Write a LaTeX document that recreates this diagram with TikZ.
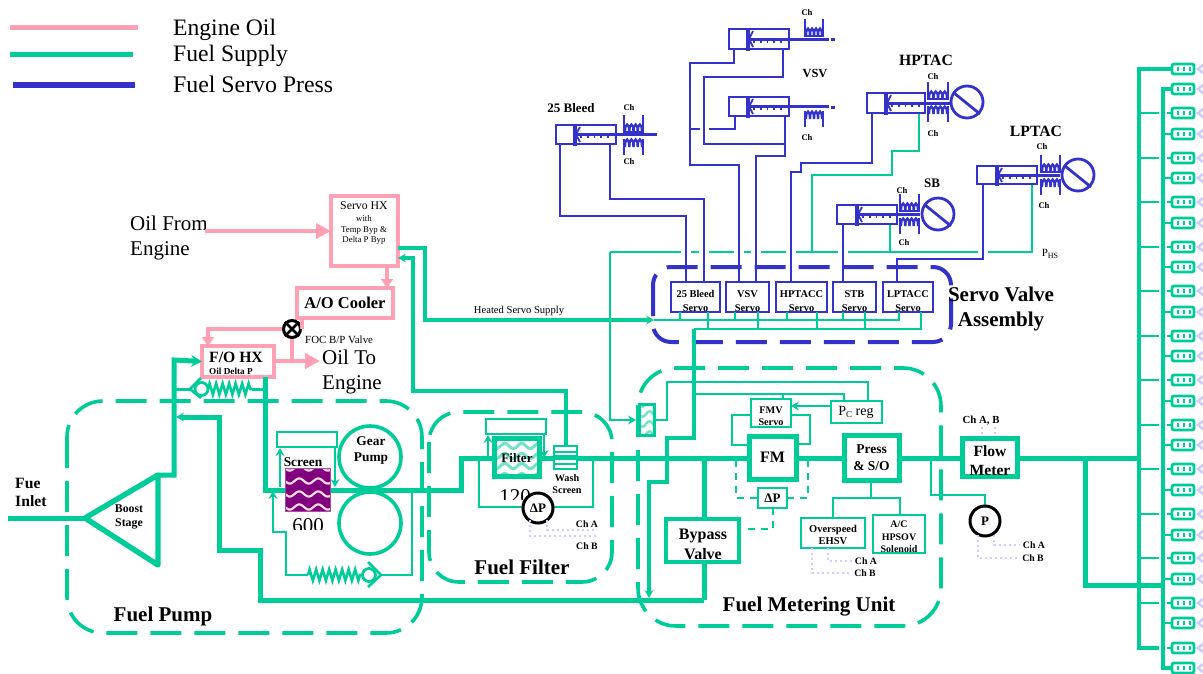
\documentclass[tikz,border=0pt]{standalone}
\usepackage{fontspec}
\setmainfont{Liberation Serif}
\usetikzlibrary{arrows.meta,decorations.pathmorphing}
\definecolor{gr}{HTML}{00CC99}
\definecolor{bl}{HTML}{3333CC}
\definecolor{pk}{HTML}{FFA0B4}
\definecolor{lv}{HTML}{CCCCFF}
\definecolor{pu}{HTML}{800080}
\newcommand\fz[2]{\fontsize{#1}{#2}\selectfont}
\tikzset{
 tb/.style 2 args={font=\bfseries\fz{#1}{#2},align=center,inner sep=0pt,text=black},
 tr/.style 2 args={font=\fz{#1}{#2},align=center,inner sep=0pt,text=black},
 g1/.style={draw=gr,line width=2.6pt,line join=miter},
 g2/.style={draw=gr,line width=3pt},
 g3/.style={draw=gr,line width=4pt},
 g4/.style={draw=gr,line width=5pt},
 bb/.style={draw=bl,line width=2.7pt},
 pp/.style={draw=pk,line width=4pt},
 dotl/.style={draw=lv,line width=2pt,dash pattern=on 2pt off 3pt},
 dashg/.style={draw=gr,line width=3.6pt,dash pattern=on 31pt off 13pt},
 dashb/.style={draw=bl,line width=4pt,dash pattern=on 31pt off 13pt},
 gar/.style={-{Stealth[length=11pt,width=12pt,inset=4pt]}},
 gars/.style={-{Stealth[length=8pt,width=9pt,inset=3pt]}},
 par/.style={-{Triangle[length=15pt,width=15pt]}},
 spr/.style={decorate,decoration={zigzag,segment length=6.5pt,amplitude=5.5pt}},
}
\newcommand\boxn[7]{%
 \pgfmathsetmacro\bxx{(#2+#4)/2}\pgfmathsetmacro\bxy{(#3+#5)/2}%
 \pgfmathsetmacro\bxw{#4-#2}\pgfmathsetmacro\bxh{#5-#3}%
 \node[#6,inner sep=0pt,outer sep=0pt,minimum width=\bxw pt,minimum height=\bxh pt,align=center] (#1) at (\bxx,\bxy) {#7};}
% humps: x1,x2,base y,height sign
\newcommand\humps[4]{%
 \pgfmathsetmacro\hw{(#2-#1-2)/4}%
 \foreach \i in {0,1,2,3}{\pgfmathsetmacro\ha{#1+1+\i*\hw}\pgfmathsetmacro\hb{\ha+\hw}\pgfmathsetmacro\hc{#3+#4}%
  \draw[draw=bl,line width=2.3pt] (\ha,#3) .. controls (\ha,\hc) and (\hb,\hc) .. (\hb,#3);}}
\newcommand\coilup[3]{\draw[bb] (#1,#3-20) -- (#1,#3-3) -- (#2,#3-3) -- (#2,#3-20); \humps{#1}{#2}{#3-3}{-10}}
\newcommand\coildn[3]{\draw[bb] (#1,#3+20) -- (#1,#3+4); \draw[bb] (#2,#3+20) -- (#2,#3+4); \humps{#1}{#2}{#3+12}{-10}}
% name,x1,x2,piston,y1,y2,rod end
\newcommand\actuator[7]{%
 \boxn{#1}{#2}{#5}{#3}{#6}{draw=bl,line width=2.6pt,fill=white}{}%
 \pgfmathsetmacro\ry{(#5+#6)/2}%
 \draw[draw=bl,line width=3.6pt] (#4,#5-1.5) -- (#4,#6+1.5);
 \draw[draw=bl,line width=1.8pt] (#4+5,#5+2) -- (#4+1,\ry) -- (#4+5,#6-2);
 \draw[draw=bl,line width=3pt] (#4,\ry) -- (#7,\ry);
 \draw[draw=bl,line width=1.8pt,dash pattern=on 1.8pt off 5pt] (#4+5,\ry+2.6) -- (#3-2,\ry+2.6);
}
\newcommand\gage[4]{%
 \draw[draw=bl,line width=2.8pt] (#1,#2) circle (16);
 \draw[draw=bl,line width=2.8pt] (#1-13,#2-9) -- (#1+13,#2+12);
 \node[inner sep=0pt,minimum size=0pt] (#3) at (#1,#2) {};}
% wave fill: x1,y1,x2,y2,bg,color,spacing,period,lw
\newcommand\wavebox[9]{%
 \begin{scope}
 \clip (#1,#2) rectangle (#3,#4);
 \fill[#5] (#1,#2) rectangle (#3,#4);
 \pgfmathsetmacro\wlast{#4+#7}\pgfmathsetmacro\wnext{#2+#7}%
 \foreach \wy in {#2,\wnext,...,\wlast}{%
  \draw[draw=#6,line width=#9pt] plot[smooth,domain=#1:#3,samples=36] (\x,{\wy+2.6*sin((\x-#1)/#8*360)});}
 \end{scope}}
\begin{document}
\begin{tikzpicture}[x=1pt,y=-1pt]
\useasboundingbox (0,0) rectangle (1203,673);
\fill[white] (0,0) rectangle (1203,673);
% ---------- legend
\coordinate (l1a) at (10,27); \coordinate (l1b) at (138,27);
\coordinate (l2a) at (10,54); \coordinate (l2b) at (133,54);
\coordinate (l3a) at (13,85); \coordinate (l3b) at (135,85);
\draw[draw=pk,line width=5pt] (l1a) -- (l1b);
\draw[draw=gr,line width=5pt] (l2a) -- (l2b);
\draw[draw=bl,line width=5.5pt] (l3a) -- (l3b);
\node[tr={23.6}{26},anchor=west] (lt1) at (173,30) {Engine Oil};
\node[tr={23.6}{26},anchor=west] (lt2) at (173,56) {Fuel Supply};
\node[tr={23.8}{26},anchor=west] (lt3) at (173,84) {Fuel Servo Press};
% ---------- nozzles
\foreach \y in {69,89,113,134,158,178,202,223,247,267,291,312,336,356,380,401,425,445,469,490,514,535,558,579,603,623,648,668}{
 \draw[draw=gr,line width=2.8pt,fill=white,rounded corners=2pt] (1172,\y-5) rectangle (1194,\y+5);
 \foreach \dx in {1178,1184,1190}{\fill[gr] (\dx-1.4,\y-1.6) rectangle (\dx+1.4,\y+1.6);}
 \draw[draw=lv,line width=2.6pt] (1203,\y-4) -- (1198,\y) -- (1203,\y+4);
}
\foreach \y in {113,158,202,247,291,336,380,425,469,514,558,603,648}{
 \draw[g1] (1139,\y) -- (1159,\y); \draw[g1] (1167,\y) -- (1172,\y);}
\foreach \y in {89,134,178,223,267,312,356,401,445,490,535,579,623}{
 \draw[g1] (1163,\y) -- (1172,\y);}
\draw[g3,line width=4.6pt] (1172,69) -- (1139,69) -- (1139,648) -- (1159,648);
\draw[g3,line width=4.6pt] (1172,89) -- (1163,89) -- (1163,668) -- (1172,668);
% ---------- fuel pump
\draw[dashg,rounded corners=36pt] (67,401) rectangle (422,633);
\draw[dashg,rounded corners=30pt] (429,412) rectangle (612,582);
\draw[dashg,rounded corners=38pt] (638,368) rectangle (941,626);
\node[tb={15.7}{18},anchor=west,align=left] (fue) at (15,492) {Fue\\Inlet};
\node[tb={21}{24}] (tpump) at (163,616) {Fuel Pump};
\node[tb={21}{24}] (tfilt) at (522,567) {Fuel Filter};
\node[tb={21}{24}] (tfmu) at (809,607) {Fuel Metering Unit};
\coordinate (tri1) at (85,518); \coordinate (tri2) at (158,475); \coordinate (tri3) at (158,565);
\coordinate (inlet) at (8,518);
\draw[g4] (inlet) -- (tri1);
\draw[draw=gr,line width=5.4pt,line join=round] (tri1) -- (tri2) -- (tri3) -- cycle;
\node[tb={11.8}{14}] (tboost) at (129,517) {Boost\\Stage};
% ---------- main fuel lines (under boxes)
\boxn{fohx}{202}{346}{274}{377}{draw=pk,line width=4pt,fill=white}{}
\draw[g4,gar] (tri2) -- (174,475) -- (174,360) -- (fohx.west);
\draw[g2] (174,389) -- (190,389);
\draw[g4] (fohx.south -| 265,0) -- (265,490) -- (285,490);
\draw[g4,gars] (704,600) -- (260,600) -- (260,550) -- (219,550) -- (219,417) -- (176,417);
\draw[g4] (330,490) -- (461,490) -- (461,458) -- (1139,458);
\draw[g4] (1085,458) -- (1085,585) -- (1163,585);
\draw[g2] (252,389) -- (265,389);
% check valve 1
\node[draw=gr,line width=2.8pt,circle,minimum size=13pt,inner sep=0pt] (cv1) at (201.5,389) {};
\draw[g1] (201,378) -- (190,389) -- (201,398);
\draw[g1,spr] (208,389) -- (252,389);
% pump bypass
\node[draw=gr,line width=2.8pt,circle,minimum size=13pt,inner sep=0pt] (cv2) at (369,575) {};
\draw[g1] (368,562) -- (381,575) -- (368,587);
\draw[g1,spr] (308,575) -- (361,575);
\draw[g1,gars] (308,575) -- (286,575) -- (286,532) -- (273,532) -- (273,491);
\draw[g1] (381,575) -- (412,575) -- (412,490);
% gear pump
\node[draw=gr,line width=3.6pt,circle,minimum size=62pt,inner sep=0pt] (gp1) at (370,457) {};
\node[tb={13.4}{16}] (tgp) at (371,450) {Gear\\Pump};
\node[draw=gr,line width=3.6pt,circle,minimum size=62pt,inner sep=0pt] (gp2) at (370,523) {};
\draw[g4] (330,490) -- (412,490);
% screen
\boxn{scrtop}{277}{432}{337}{447}{draw=gr,line width=2.6pt}{}
\wavebox{285}{468}{330}{511}{fill=pu}{pink!55!white}{13}{19}{2.2}
\node[draw=pu!70!white,line width=.6pt,inner sep=0pt,minimum width=45pt,minimum height=43pt] (screen) at (307.5,489.5) {};
\node[tb={13.4}{16}] (tscr) at (303,462) {Screen};
\draw[g1,gars] (280,487) -- (280,448);
\draw[g1,gars] (335,447) -- (335,487);
\begin{scope}\clip (280,500) rectangle (340,529.5);
\node[tr={21}{24}] (t600) at (308,526) {600};
\end{scope}
% ---------- filter
\boxn{filttop}{486}{419}{546}{434}{draw=gr,line width=2.6pt}{}
\wavebox{492}{436}{541}{478}{fill=white}{gr!55!white}{10}{17}{3}
\boxn{filter}{494}{438}{539}{476}{draw=gr,line width=5pt}{}
\node[tb={13}{15}] (tfilter) at (517,458) {Filter};
\draw[g1,gars] (488,458) -- (488,435);
\draw[g1,gars] (544,435) -- (544,458);
\draw[g1] (479,458) -- (479,507) -- (523,507);
\draw[g1] (593,458) -- (593,507) -- (553,507);
\begin{scope}\clip (490,480) rectangle (540,499.5);
\node[tr={21}{24}] (t120) at (515,497) {120};
\end{scope}
\boxn{wash}{554}{446}{577}{469}{draw=gr,line width=2.6pt,fill=white}{}
\draw[g1,line width=1.8pt] (554,452) -- (577,452);
\draw[g1,line width=1.8pt] (554,464) -- (577,464);
\draw[g4] (wash.west) -- (wash.east);
\node[tb={10.2}{12.5}] (twash) at (567,484) {Wash\\Screen};
\node[draw=black,line width=3pt,circle,fill=white,minimum size=30pt,inner sep=0pt,tb={13}{15}] (dp1) at (538,508) {ΔP};
\draw[dotl] (530,520) -- (530,536) -- (597,536);
\draw[dotl] (547,520) -- (547,530) -- (597,530);
\node[tb={9.8}{12}] (cha1) at (587,524) {Ch A};
\node[tb={9.8}{12}] (chb1) at (587,546) {Ch B};
% ---------- bypass
\boxn{bypass}{666}{519}{739}{562}{draw=gr,line width=4.6pt,fill=white}{}
\node[tb={16}{20}] (tbyp) at (703,544) {Bypass\\Valve};
\draw[g4] (704,458) -- (bypass.north -| 704,0);
\draw[g4] (bypass.south -| 704,0) -- (704,600);
% ---------- FMU internals
\wavebox{639}{404}{654}{435}{fill=white}{gr!55!white}{10}{14}{2.4}
\boxn{fmf}{639}{404}{654}{435}{draw=gr,line width=3pt}{}
\draw[g1,gars] (610,252) -- (610,420) -- (636,420);
\draw[g1] (654,420) -- (667,420) -- (667,382) -- (868,382) -- (868,401);
\boxn{pcreg}{831}{401}{882}{423}{draw=gr,line width=2.6pt,fill=white}{}
\node[tr={14}{16}] (tpc) at (856,412) {P{\fz{9}{9}\raisebox{-2pt}{C}} reg};
\boxn{fmv}{751}{399}{791}{427}{draw=gr,line width=2.6pt,fill=white}{}
\node[tb={10.2}{12.5}] (tfmv) at (771,416) {FMV\\Servo};
\boxn{fm}{749}{436}{796}{479}{draw=gr,line width=5pt,fill=white,tb={16}{18}}{FM}
\boxn{press}{844}{435}{899}{480}{draw=gr,line width=5pt,fill=white,tb={13.5}{16.5}}{Press\\\& S/O}
\boxn{flow}{962}{438}{1017}{476}{draw=gr,line width=5pt,fill=white}{}
\node[tb={15.6}{19}] (tflow) at (990,461) {Flow\\Meter};
\draw[g1,gars] (pcreg.west |- 0,406) -- (fmv.east |- 0,406);
\draw[g1] (751,415) -- (732,415) -- (732,445) -- (748,445);
\draw[g1] (791,415) -- (810,415) -- (810,444) -- (797,444);
\boxn{dpb}{758}{488}{787}{508}{draw=gr,line width=2.6pt,fill=white,tb={13}{15}}{ΔP}
\draw[g1,dash pattern=on 7pt off 6pt] (736,460) -- (736,498) -- (758,498);
\draw[g1,dash pattern=on 7pt off 6pt] (808,460) -- (808,498) -- (787,498);
\draw[g1,dash pattern=on 7pt off 6pt] (773,508) -- (773,529) -- (745,529);
\boxn{over}{801}{518}{865}{548}{draw=gr,line width=2.6pt,fill=white}{}
\node[tb={10.5}{12.5}] (tover) at (833,535) {Overspeed\\EHSV};
\boxn{hpsov}{873}{515}{925}{553}{draw=gr,line width=2.6pt,fill=white}{}
\node[tb={10}{12.4}] (thps) at (899,537) {A/C\\HPSOV\\Solenoid};
\draw[g1] (press.south -| 871,0) -- (871,498);
\draw[g1] (over.north -| 833,0) -- (833,498) -- (900,498) -- (hpsov.north -| 900,0);
\draw[dotl] (812,548) -- (812,573) -- (852,573);
\draw[dotl] (828,548) -- (828,561) -- (852,561);
\node[tb={9.8}{12}] (cha2) at (866,561) {Ch A};
\node[tb={9.8}{12}] (chb2) at (865,573) {Ch B};
\node[tb={10.8}{12}] (chab) at (981,421) {Ch A, B};
\draw[dotl] (982,427) -- (982,437);
\draw[dotl] (995,427) -- (995,437);
\draw[g1] (931,458) -- (931,495) -- (985,495) -- (985,506);
\node[draw=black,line width=3pt,circle,fill=white,minimum size=30pt,inner sep=0pt,tb={13}{15}] (pres) at (985,521) {P};
\draw[dotl] (978,535) -- (978,558) -- (1020,558);
\draw[dotl] (994,535) -- (994,545) -- (1020,545);
\node[tb={9.8}{12}] (cha3) at (1034,545) {Ch A};
\node[tb={9.8}{12}] (chb3) at (1033,558) {Ch B};
% ---------- oil
\boxn{servohx}{331}{196}{398}{266}{draw=pk,line width=4pt,fill=white}{}
\boxn{aoc}{297}{288}{393}{318}{draw=pk,line width=4pt,fill=white,tb={16.5}{18}}{A/O Cooler}
\node[tr={11.8}{13}] (ts1) at (364,206) {Servo HX};
\node[tr={8.8}{10.5}] (ts2) at (364,230) {with\\Temp Byp \&\\Delta P Byp};
\node[tb={15.7}{17}] (tfo) at (236,357.5) {F/O HX};
\node[tb={9.2}{10},anchor=west] (tod) at (209,371) {Oil Delta P};
\node[tr={21}{25},anchor=north west,align=left] (tofe) at (130,216) {Oil From\\Engine};
\node[tr={21}{25},anchor=north west,align=left] (tote) at (322,350) {Oil To\\Engine};
\node[tr={10.9}{12},anchor=west] (tfoc) at (305,340) {FOC B/P Valve};
\coordinate (oilin) at (205,231);
\draw[pp,par] (oilin) -- (servohx.west |- oilin);
\draw[pp,-{Triangle[length=9pt,width=12pt]}] (servohx.south -| 387,0) -- (aoc.north -| 387,0);
\node[draw=black,line width=3pt,circle,fill=white,minimum size=17pt,inner sep=0pt] (fbv) at (292,329) {};
\draw[draw=black,line width=2.6pt] (fbv.north east) -- (fbv.south west) (fbv.north west) -- (fbv.south east);
\draw[pp] (aoc.south -| 302,0) -- (302,329) -- (fbv.east);
\draw[pp,-{Triangle[length=9pt,width=12pt]}] (fbv.west) -- (208,329) -- (fohx.north -| 208,0);
\draw[pp] (fbv.south) -- (292,361);
\coordinate (oilout) at (320,361);
\draw[pp,par] (fohx.east |- oilout) -- (oilout);
% ---------- heated servo supply
\draw[g3,gars] (wash.north -| 566,0) -- (566,391) -- (413,391) -- (413,258) -- (398,258);
\draw[g3,gars] (398,248) -- (425,248) -- (425,320) -- (654,320);
\node[tr={10.6}{12}] (theat) at (519,311) {Heated Servo Supply};
% ---------- PHS line
\draw[g1] (610,252) -- (1032,252) -- (1032,184);
\draw[g1] (890,224) -- (890,252);
\draw[g1] (812,252) -- (812,175) -- (892,175) -- (892,151) -- (919,151) -- (919,113);
\foreach \x in {686,704,739,756,791,843,983}{\draw[draw=white,line width=4pt] (\x-5,252) -- (\x+5,252);}
\node[tr={11}{12}] (phs) at (1050,254) {P{\fz{8}{8}\raisebox{-2pt}{HS}}};
% ---------- servo valve assembly
\draw[dashb,rounded corners=18pt] (653,267) rectangle (951,342);
\boxn{s25}{671}{282}{720}{312}{draw=bl,line width=2.6pt,fill=white}{}
\boxn{svsv}{726}{282}{769}{312}{draw=bl,line width=2.6pt,fill=white}{}
\boxn{shp}{776}{282}{827}{312}{draw=bl,line width=2.6pt,fill=white}{}
\boxn{sstb}{833}{282}{876}{312}{draw=bl,line width=2.6pt,fill=white}{}
\boxn{slp}{883}{282}{933}{312}{draw=bl,line width=2.6pt,fill=white}{}
\node[tb={10.4}{13.5}] (t1) at (695.5,301) {25 Bleed\\Servo};
\node[tb={10.4}{13.5}] (t2) at (747.5,301) {VSV\\Servo};
\node[tb={10.4}{13.5}] (t3) at (801.5,301) {HPTACC\\Servo};
\node[tb={10.4}{13.5}] (t4) at (854.5,301) {STB\\Servo};
\node[tb={10.4}{13.5}] (t5) at (908,301) {LPTACC\\Servo};
\node[tb={21}{25}] (tsva) at (1001,309) {Servo Valve\\Assembly};
\draw[g1] (654,320) -- (899,320) -- (slp.south -| 899,0);
\draw[g1] (s25.south -| 680,0) -- (680,320);
\draw[g1] (svsv.south -| 735,0) -- (735,320);
\draw[g1] (shp.south -| 787,0) -- (787,320);
\draw[g1] (sstb.south -| 843,0) -- (843,320);
\draw[g1] (s25.south -| 708,0) -- (708,329);
\draw[g1] (svsv.south -| 758,0) -- (758,329);
\draw[g1] (shp.south -| 817,0) -- (817,329);
\draw[g1] (sstb.south -| 865,0) -- (865,329);
\draw[g1] (slp.south -| 921,0) -- (921,329) -- (694,329);
\draw[g3] (694,329) -- (694,438) -- (667,438) -- (667,482) -- (649,482);
\draw[g3,gars] (667,482) -- (649,482) -- (649,598);
\draw[g1] (694,394) -- (844,394) -- (844,401);
\draw[g1] (783,394) -- (fmv.north -| 783,0);
% ---------- actuators
\node[tb={13}{15}] (t25) at (571,108) {25 Bleed};
\node[tb={12.4}{15}] (tvsv) at (815,73) {VSV};
\node[tb={15.7}{18}] (thp) at (926,60) {HPTAC};
\node[tb={15.7}{18}] (tlp) at (1036,131) {LPTAC};
\node[tb={13}{15}] (tsb) at (932,183) {SB};
\actuator{a25}{556}{616}{575}{125}{144}{657}
\actuator{av1}{729}{789}{748}{29}{49}{829}
\actuator{av2}{729}{789}{748}{97}{116}{829}
\actuator{ahp}{867}{925}{886}{93}{113}{950}
\actuator{asb}{837}{897}{857}{205}{224}{920}
\actuator{alp}{977}{1037}{997}{166}{184}{1060}
\draw[bb] (a25.south -| 560,0) -- (560,216) -- (686,216) -- (s25.north -| 686,0);
\draw[bb] (a25.south -| 610,0) -- (610,199) -- (704,199) -- (s25.north -| 704,0);
\draw[bb] (av1.south -| 734,0) -- (734,63) -- (690,63) -- (690,165) -- (739,165) -- (svsv.north -| 739,0);
\draw[bb] (av1.south -| 783,0) -- (783,77) -- (704,77) -- (704,144) -- (785,144);
\draw[bb] (av2.south -| 785,0) -- (785,156) -- (756,156) -- (svsv.north -| 756,0);
\draw[bb] (av2.south -| 735,0) -- (735,129) -- (709,129);
\draw[bb] (700,129) -- (690,129);
\draw[bb] (shp.north -| 791,0) -- (791,172) -- (801,172) -- (801,163) -- (872,163) -- (ahp.south -| 872,0);
\draw[bb] (asb.south -| 843,0) -- (sstb.north -| 843,0);
\draw[bb] (alp.south -| 983,0) -- (983,259) -- (897,259) -- (slp.north -| 897,0);
\coilup{624}{643}{135}\coildn{624}{643}{135}
\coilup{805}{823}{39}
\coildn{805}{823}{107}
\coilup{928}{948}{102}\coildn{928}{948}{102}
\coilup{900}{919}{214}\coildn{900}{919}{214}
\coilup{1041}{1060}{175}\coildn{1041}{1060}{175}
\fill[bl] (831,37.5) rectangle (835,40.5);
\fill[bl] (831,105.5) rectangle (835,108.5);
\gage{967}{102}{gh}{}
\gage{938}{214}{gs}{}
\gage{1078}{175}{gl}{}
\node[tb={8.6}{10}] (c1) at (629,108) {Ch};
\node[tb={8.6}{10}] (c2) at (629,162) {Ch};
\node[tb={8.6}{10}] (c3) at (807,13) {Ch};
\node[tb={8.6}{10}] (c4) at (807,138) {Ch};
\node[tb={8.6}{10}] (c5) at (933,77) {Ch};
\node[tb={8.6}{10}] (c6) at (933,134) {Ch};
\node[tb={8.6}{10}] (c7) at (902,191) {Ch};
\node[tb={8.6}{10}] (c8) at (904,243) {Ch};
\node[tb={8.6}{10}] (c9) at (1042,147) {Ch};
\node[tb={8.6}{10}] (c10) at (1044,206) {Ch};
\end{tikzpicture}
\end{document}
